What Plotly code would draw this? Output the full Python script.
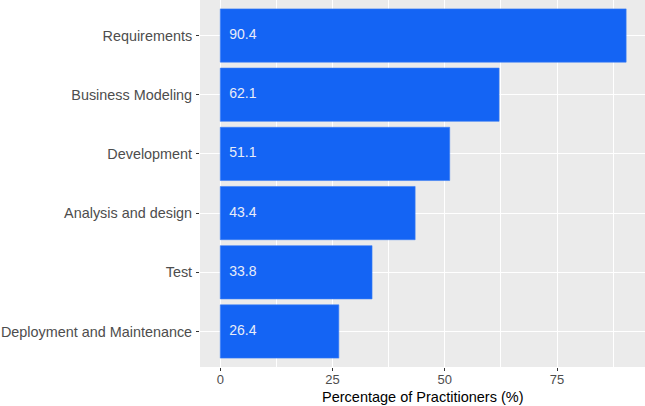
import plotly.graph_objects as go

categories = ["Requirements", "Business Modeling", "Development",
              "Analysis and design", "Test", "Deployment and Maintenance"]
values = [90.4, 62.1, 51.1, 43.4, 33.8, 26.4]
x_ticks = [0, 25, 50, 75]
label_x = [2] * len(values)
x_title = "Percentage of Practitioners (%)"

W, H = 645, 406
M_L, M_R, M_T, M_B = 200, 0, 0, 39
plot_h = H - M_T - M_B

fig = go.Figure()
fig.add_trace(go.Bar(
    x=values, y=categories, orientation="h",
    width=0.9,
    marker=dict(color="#1464F4", line=dict(width=0.6, color="#3A7DF5")),
    hoverinfo="skip",
))
fig.add_trace(go.Scatter(
    x=label_x, y=categories, mode="text",
    text=[f"{v:.1f}" for v in values],
    textposition="middle right",
    textfont=dict(family="Liberation Sans, Arial", size=14, color="#E8ECF8"),
    hoverinfo="skip",
))

fig.update_layout(
    width=W, height=H,
    margin=dict(l=M_L, r=M_R, t=M_T, b=M_B, autoexpand=False),
    paper_bgcolor="white",
    plot_bgcolor="#EBEBEB",
    showlegend=False,
    font=dict(family="Liberation Sans, Arial", size=14, color="#4D4D4D"),
    bargap=0.1,
    annotations=[dict(
        text=x_title, xref="paper", yref="paper",
        x=0.5, y=-30 / plot_h, xanchor="center", yanchor="middle",
        showarrow=False, font=dict(size=14.5, color="black"),
    )],
)
fig.update_xaxes(
    range=[-4.52, 94.6],
    tickvals=x_ticks,
    ticktext=[str(t) for t in x_ticks],
    showgrid=True, gridcolor="white", gridwidth=1.1,
    minor=dict(tickvals=[12.5, 37.5, 62.5, 87.5], showgrid=True,
               gridcolor="white", gridwidth=0.5, ticks=""),
    zeroline=False, automargin=False,
    ticks="outside", ticklen=3, tickwidth=1, tickcolor="#333333",
    tickfont=dict(size=13, color="#4D4D4D"),
    ticklabelstandoff=-3,
    showline=False,
)
fig.update_yaxes(
    type="category",
    categoryorder="array", categoryarray=categories,
    range=[5.6, -0.6],
    showgrid=True, gridcolor="white", gridwidth=1.1,
    ticks="outside", ticklen=3, tickwidth=1, tickcolor="#333333",
    tickfont=dict(size=14.4, color="#4D4D4D"),
    ticklabelstandoff=1, automargin=False,
    zeroline=False, showline=False,
)

fig.write_html(
    "out.html",
    config={"displayModeBar": False},
    post_script="document.body.style.margin='0';document.body.style.overflow='hidden';",
)
